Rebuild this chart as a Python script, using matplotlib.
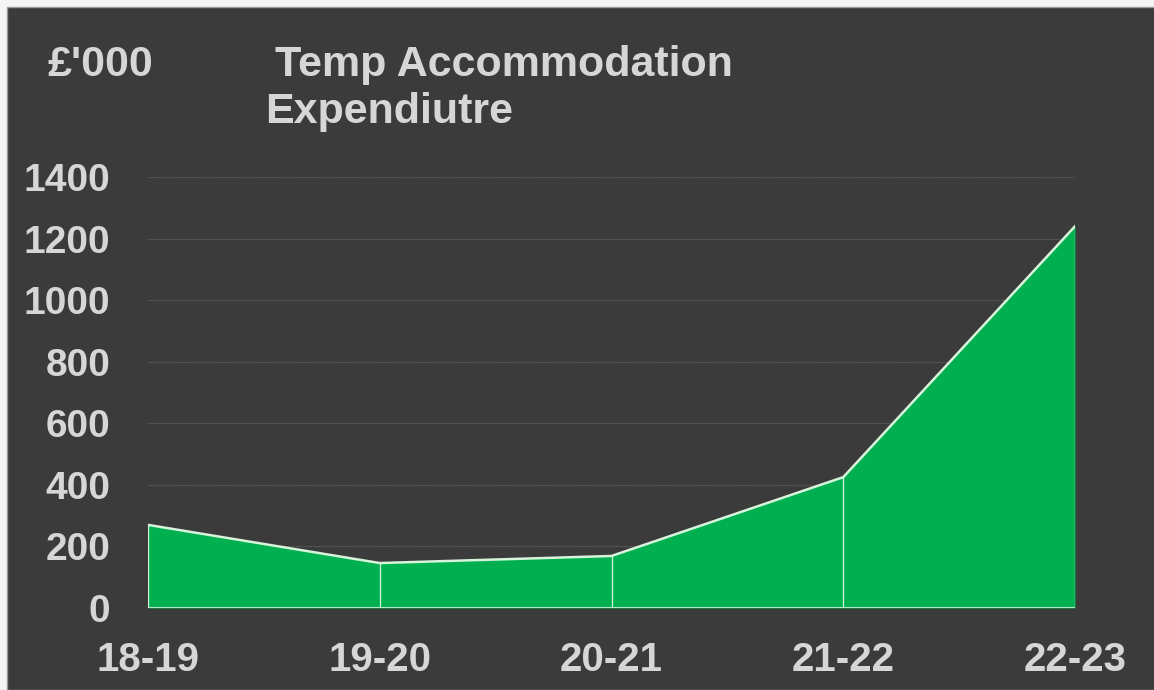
import matplotlib.pyplot as plt
from matplotlib.patches import Rectangle

years = ["18-19", "19-20", "20-21", "21-22", "22-23"]
spend = [270, 146, 169, 425, 1240]
yticks = [0, 200, 400, 600, 800, 1000, 1200, 1400]

BG = "#3b3b3b"
TXT = "#d6d6d6"
GREEN = "#00b050"
EDGE = "#d8f5dc"

plt.rcParams["font.family"] = ["Liberation Sans", "DejaVu Sans"]
plt.rcParams["font.weight"] = "bold"

fig = plt.figure(figsize=(11.54, 6.9), dpi=100, facecolor="#f4f4f4")
# dark panel with thin border on left/top
fig.patches.append(Rectangle((7 / 1154, 0), 1, 1 - 7 / 690, transform=fig.transFigure,
                             facecolor=BG, edgecolor="#9a9a9a", linewidth=1.0, zorder=-10))

ax = fig.add_axes([148 / 1154, 1 - 608 / 690, (1075 - 148) / 1154, (608 - 177) / 690])
ax.set_facecolor("none")

x = list(range(len(years)))
ax.fill_between(x, 0, spend, color=GREEN, linewidth=0, zorder=3)
ax.plot(x, spend, color=EDGE, linewidth=1.8, zorder=4)
ax.vlines(x, 0, spend, color=EDGE, linewidth=0.9, zorder=4)
ax.axhline(0, color=EDGE, linewidth=1.2, zorder=4)

ax.set_xlim(0, len(years) - 1)
ax.set_ylim(0, 1400)
ax.set_yticks(yticks)
ax.set_xticks(x)
ax.set_xticklabels(years)
ax.yaxis.grid(True, color="#636363", linestyle=(0, (1, 1)), linewidth=0.9, zorder=1)
ax.set_axisbelow(True)
for s in ax.spines.values():
    s.set_visible(False)
ax.tick_params(axis="y", length=0, pad=27, labelsize=28, labelcolor=TXT)
ax.tick_params(axis="x", length=0, pad=24, labelsize=29, labelcolor=TXT)

fig.text(48 / 1154, 1 - 76 / 690, "£'000", color=TXT, fontsize=31, fontweight="bold")
fig.text(275 / 1154, 1 - 76 / 690, "Temp Accommodation", color=TXT, fontsize=31, fontweight="bold")
fig.text(265 / 1154, 1 - 123 / 690, "Expendiutre", color=TXT, fontsize=31, fontweight="bold")

fig.savefig("out.png", dpi=100, facecolor=fig.get_facecolor())
